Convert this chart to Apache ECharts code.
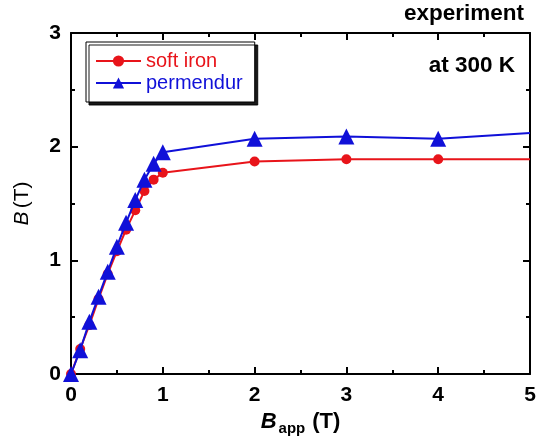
<!DOCTYPE html>
<html><head><meta charset="utf-8">
<script src="https://cdn.jsdelivr.net/npm/echarts@6/dist/echarts.min.js"></script>
<style>html,body{margin:0;padding:0;background:#fff}#c{width:539px;height:445px}</style>
</head><body><div id="c"></div>
<script>
const softIronX = [0, 0.1, 0.2, 0.3, 0.4, 0.5, 0.6, 0.7, 0.8, 0.9, 1.0, 2, 3, 4, 5];
const softIronB = [0, 0.22, 0.43, 0.66, 0.88, 1.08, 1.27, 1.44, 1.61, 1.71, 1.77, 1.87, 1.89, 1.89, 1.89];
const permendurX = [0, 0.1, 0.2, 0.3, 0.4, 0.5, 0.6, 0.7, 0.8, 0.9, 1.0, 2, 3, 4, 5];
const permendurB = [0, 0.21, 0.46, 0.68, 0.90, 1.12, 1.33, 1.53, 1.71, 1.85, 1.95, 2.07, 2.09, 2.07, 2.12];
const xTicks = [0, 1, 2, 3, 4, 5];
const yTicks = [0, 1, 2, 3];

const FONT = '"Liberation Sans", Arial, sans-serif';
function pts(xs, ys, size) {
  return xs.map((x, i) => ({ value: [x, ys[i]], symbolSize: x === 5 ? 0 : size }));
}
const axisCommon = {
  axisLine: { show: true, onZero: false, lineStyle: { color: '#000', width: 2 } },
  axisTick: { show: true, inside: true, length: 7, lineStyle: { color: '#000', width: 2 } },
  minorTick: { show: true, splitNumber: 2, length: 4, lineStyle: { color: '#000', width: 2 } },
  splitLine: { show: false },
  minorSplitLine: { show: false }
};
const chart = echarts.init(document.getElementById('c'));
chart.setOption({
  animation: false,
  backgroundColor: '#fff',
  grid: { left: 71, right: 9, top: 33, bottom: 71, containLabel: false, outerBoundsMode: 'none' },
  title: [
    { text: 'experiment', right: 15, top: 2, padding: 0, textStyle: { fontFamily: FONT, fontWeight: 'bold', fontSize: 22.5, color: '#000' } },
    { text: 'at 300 K', right: 24, top: 54, padding: 0, textStyle: { fontFamily: FONT, fontWeight: 'bold', fontSize: 22.5, color: '#000' } }
  ],
  legend: {
    orient: 'vertical', left: 86, top: 42, itemWidth: 45, itemHeight: 14, itemGap: 2,
    padding: [9, 12, 9, 9],
    borderColor: '#000', borderWidth: 1, backgroundColor: '#fff',
    shadowColor: 'rgba(0,0,0,0.9)', shadowOffsetX: 3, shadowOffsetY: 3, shadowBlur: 0,
    textStyle: { fontFamily: FONT, fontSize: 20 },
    data: [
      { name: 'soft iron', textStyle: { color: '#e8141a' } },
      { name: 'permendur', textStyle: { color: '#1010d8' } }
    ]
  },
  xAxis: [
    Object.assign({}, axisCommon, {
      type: 'value', min: 0, max: 5, interval: 1, position: 'bottom',
      axisLabel: { fontFamily: FONT, fontWeight: 'bold', fontSize: 21, color: '#000', margin: 11,
        formatter: v => xTicks.includes(v) ? String(v) : '' },
      name: '{b|B}{s|app}{n|(T)}', nameLocation: 'middle', nameGap: 30,
      nameTextStyle: { rich: {
        b: { fontFamily: FONT, fontWeight: 'bold', fontStyle: 'italic', fontSize: 22, color: '#000' },
        s: { fontFamily: FONT, fontWeight: 'bold', fontSize: 15, color: '#000', verticalAlign: 'bottom', padding: [14, 7, 0, 2] },
        n: { fontFamily: FONT, fontWeight: 'bold', fontSize: 22, color: '#000' }
      } }
    }),
    Object.assign({}, axisCommon, {
      type: 'value', min: 0, max: 5, interval: 1, position: 'top', axisLabel: { show: false }
    })
  ],
  yAxis: [
    Object.assign({}, axisCommon, {
      type: 'value', min: 0, max: 3, interval: 1, position: 'left',
      axisLabel: { fontFamily: FONT, fontWeight: 'bold', fontSize: 21, color: '#000', margin: 10,
        formatter: v => yTicks.includes(v) ? String(v) : '' },
      name: '{b|B} {n|(T)}', nameLocation: 'middle', nameGap: 38, nameRotate: 90,
      nameTextStyle: { rich: {
        b: { fontFamily: FONT, fontStyle: 'italic', fontSize: 21, color: '#000' },
        n: { fontFamily: FONT, fontSize: 21, color: '#000' }
      } }
    }),
    Object.assign({}, axisCommon, {
      type: 'value', min: 0, max: 3, interval: 1, position: 'right', axisLabel: { show: false }
    })
  ],
  series: [
    {
      name: 'soft iron', type: 'line', xAxisIndex: 0, yAxisIndex: 0,
      symbol: 'circle', symbolSize: 10,
      lineStyle: { color: '#e8141a', width: 2 },
      itemStyle: { color: '#e8141a' },
      data: pts(softIronX, softIronB, 10), z: 2
    },
    {
      name: 'permendur', type: 'line', xAxisIndex: 0, yAxisIndex: 0,
      symbol: 'triangle', symbolSize: 16,
      lineStyle: { color: '#1010d8', width: 2 },
      itemStyle: { color: '#1010d8' },
      data: pts(permendurX, permendurB, 16), z: 3
    }
  ]
});
</script></body></html>
